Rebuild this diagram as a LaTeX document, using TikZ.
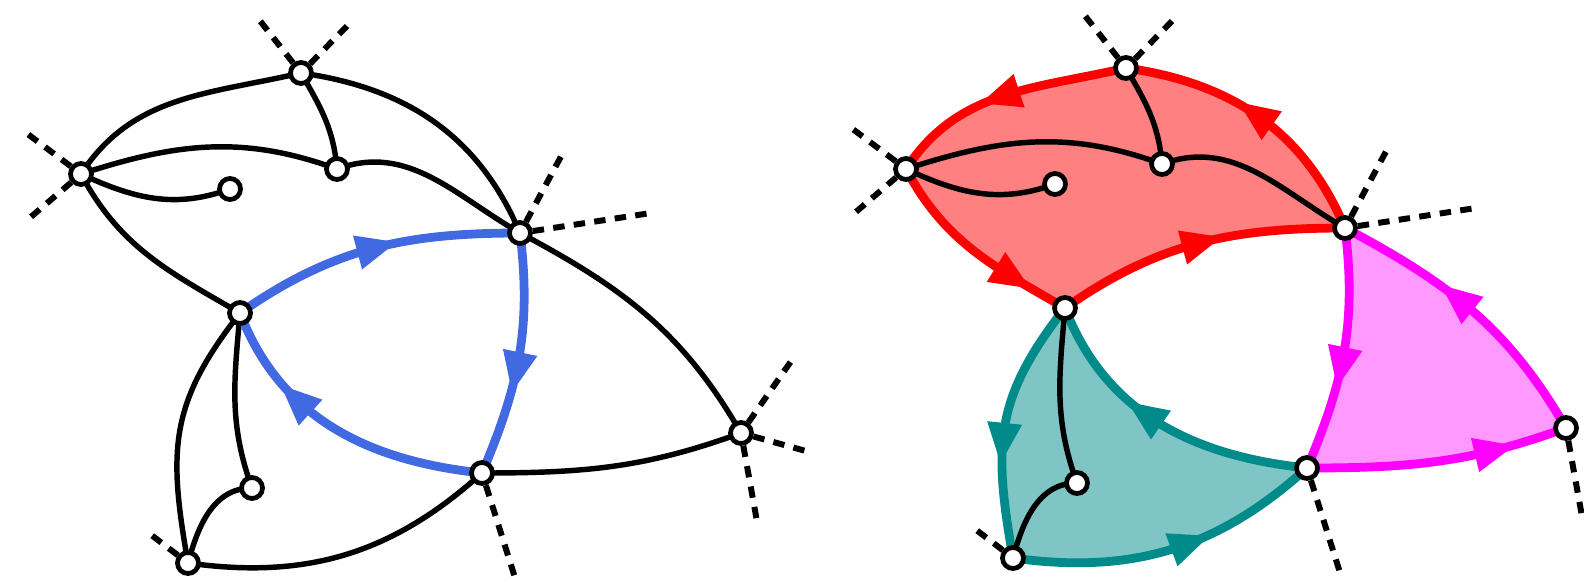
\documentclass[tikz,border=0pt]{standalone}
\usepackage{tikz}
\usetikzlibrary{
    arrows.meta,
    backgrounds,
    decorations.markings
}
\definecolor{Cblue}{RGB}{65, 105, 225}
\definecolor{Cred}{RGB}{255, 0, 0}
\definecolor{Cmag}{RGB}{255, 0, 255}
\definecolor{Cteal}{RGB}{0, 139, 139}
\tikzset{
    vtx/.style={
        circle, draw=black, fill=white, line width=2.7pt,
        minimum size=0.42cm, inner sep=0pt
    },
    edg/.style={line width=3.1pt, black},
    stub/.style={line width=3.4pt, black, dash pattern=on 6.5pt off 5.3pt},
    cyc/.style={line width=5pt, color=#1},
    midarr/.style={
        postaction={decorate},
        decoration={markings, mark=at position #1 with {
            \fill (14pt,0pt) -- (-9pt,10pt) -- (-9pt,-10pt) -- cycle;}}
    },
    midarr/.default=0.5,
}

\begin{document}
\begin{tikzpicture}[x=0.02cm, y=0.02cm]

    \useasboundingbox (0,0) rectangle (1584,586);

    % left graph
    \node [vtx] (A) at (301,513) {};
    \node [vtx] (B) at (81,412) {};
    \node [vtx] (C) at (230,397) {};
    \node [vtx] (D) at (337,417) {};
    \node [vtx] (E) at (520,353) {};
    \node [vtx] (F) at (240,273) {};
    \node [vtx] (G) at (482,113) {};
    \node [vtx] (H) at (741,153) {};
    \node [vtx] (I) at (252,98) {};
    \node [vtx] (J) at (188,23) {};

    % right graph
    \node [vtx] (A2) at (1126,518) {};
    \node [vtx] (B2) at (906,417) {};
    \node [vtx] (C2) at (1055,402) {};
    \node [vtx] (D2) at (1162,422) {};
    \node [vtx] (E2) at (1345,358) {};
    \node [vtx] (F2) at (1065,278) {};
    \node [vtx] (G2) at (1307,118) {};
    \node [vtx] (H2) at (1566,158) {};
    \node [vtx] (I2) at (1077,103) {};
    \node [vtx] (J2) at (1013,28) {};

    % loose ends
    \coordinate (bs1) at (25,454);   \coordinate (bs2) at (25,364);
    \coordinate (as1) at (257,569);  \coordinate (as2) at (353,566);
    \coordinate (es1) at (565,437);  \coordinate (es2) at (651,373);
    \coordinate (hs1) at (794,229);  \coordinate (hs2) at (813,133);
    \coordinate (hs3) at (758,59);
    \coordinate (gs1) at (517,2);
    \coordinate (js1) at (150,52);
    \coordinate (bs3) at (850,459);  \coordinate (bs4) at (850,369);
    \coordinate (as3) at (1082,574); \coordinate (as4) at (1178,571);
    \coordinate (es3) at (1390,442); \coordinate (es4) at (1476,378);
    \coordinate (hs4) at (1583,64);
    \coordinate (gs2) at (1342,7);
    \coordinate (js2) at (975,57);

    \begin{scope}[on background layer]
        % faces
        \fill [Cred!50] (F2.center) to[out=35,in=180] (E2.center) to[out=113,in=-8] (A2.center)
            to[out=193,in=57] (B2.center) to[out=-62,in=150] (F2.center) -- cycle;
        \fill [Cmag!40] (E2.center) to[out=-83,in=67] (G2.center) to[out=0,in=200] (H2.center)
            to[out=120,in=-28] (E2.center) -- cycle;
        \fill [Cteal!50] (G2.center) to[out=174,in=-69] (F2.center) to[out=-128,in=100,looseness=1.15] (J2.center)
            to[out=-8,in=222] (G2.center) -- cycle;

        \draw [stub] (B) -- (bs1);  \draw [stub] (B) -- (bs2);
        \draw [stub] (A) -- (as1);  \draw [stub] (A) -- (as2);
        \draw [stub] (E) -- (es1);  \draw [stub] (E) -- (es2);
        \draw [stub] (H) -- (hs1);  \draw [stub] (H) -- (hs2);
        \draw [stub] (H) -- (hs3);
        \draw [stub] (G) -- (gs1);
        \draw [stub] (J) -- (js1);
        \draw [stub] (B2) -- (bs3); \draw [stub] (B2) -- (bs4);
        \draw [stub] (A2) -- (as3); \draw [stub] (A2) -- (as4);
        \draw [stub] (E2) -- (es3); \draw [stub] (E2) -- (es4);
        \draw [stub] (H2) -- (hs4);
        \draw [stub] (G2) -- (gs2);
        \draw [stub] (J2) -- (js2);

        % left: edges
        \draw [edg] (A.center) to[out=193,in=57] (B.center);
        \draw [edg] (A.center) to[out=-8,in=113] (E.center);
        \draw [edg] (A.center) to[out=-60,in=95] (D.center);
        \draw [edg] (B.center) to[out=18,in=160] (D.center);
        \draw [edg] (D.center) to[out=20,in=150] (E.center);
        \draw [edg] (B.center) to[out=-25,in=200] (C.center);
        \draw [edg] (B.center) to[out=-62,in=150] (F.center);
        \draw [edg] (E.center) to[out=-28,in=120] (H.center);
        \draw [edg] (G.center) to[out=0,in=200] (H.center);
        \draw [edg] (F.center) to[out=-128,in=100,looseness=1.15] (J.center);
        \draw [edg] (F.center) to[out=-95,in=110] (I.center);
        \draw [edg] (J.center) to[out=75,in=180] (I.center);
        \draw [edg] (J.center) to[out=-8,in=222] (G.center);
        \draw [cyc=Cblue, midarr=0.5] (F.center) to[out=35,in=180] (E.center);
        \draw [cyc=Cblue, midarr=0.55] (E.center) to[out=-83,in=67] (G.center);
        \draw [cyc=Cblue, midarr=0.65] (G.center) to[out=174,in=-69] (F.center);

        % right: edges
        \draw [cyc=Cred, midarr=0.5] (F2.center) to[out=35,in=180] (E2.center);
        \draw [cyc=Cred, midarr=0.5] (E2.center) to[out=113,in=-8] (A2.center);
        \draw [cyc=Cred, midarr=0.5] (A2.center) to[out=193,in=57] (B2.center);
        \draw [cyc=Cred, midarr=0.7] (B2.center) to[out=-62,in=150] (F2.center);
        \draw [cyc=Cmag, midarr=0.55] (E2.center) to[out=-83,in=67] (G2.center);
        \draw [cyc=Cmag, midarr=0.7] (G2.center) to[out=0,in=200] (H2.center);
        \draw [cyc=Cmag, midarr=0.55] (H2.center) to[out=120,in=-28] (E2.center);
        \draw [cyc=Cteal, midarr=0.55] (G2.center) to[out=174,in=-69] (F2.center);
        \draw [cyc=Cteal, midarr=0.55] (F2.center) to[out=-128,in=100,looseness=1.15] (J2.center);
        \draw [cyc=Cteal, midarr=0.55] (J2.center) to[out=-8,in=222] (G2.center);
        \draw [edg] (A2.center) to[out=-60,in=95] (D2.center);
        \draw [edg] (B2.center) to[out=18,in=160] (D2.center);
        \draw [edg] (D2.center) to[out=20,in=150] (E2.center);
        \draw [edg] (B2.center) to[out=-25,in=200] (C2.center);
        \draw [edg] (F2.center) to[out=-95,in=110] (I2.center);
        \draw [edg] (J2.center) to[out=75,in=180] (I2.center);
    \end{scope}

\end{tikzpicture}
\end{document}
